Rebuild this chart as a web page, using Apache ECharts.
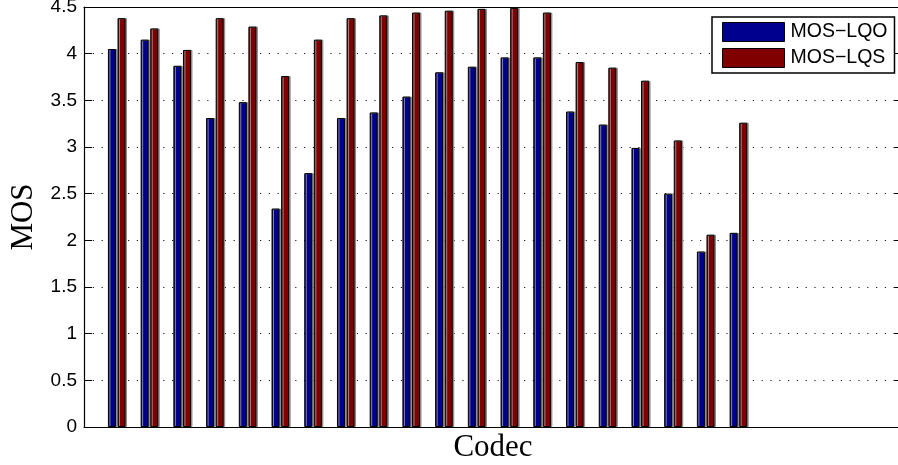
<!DOCTYPE html>
<html>
<head>
<meta charset="utf-8">
<title>MOS per codec</title>
<script src="https://cdn.jsdelivr.net/npm/echarts@6/dist/echarts.min.js"></script>
<style>
  html, body { margin: 0; padding: 0; background: #fff; }
  #chart { width: 898px; height: 465px; }
</style>
</head>
<body>
<div id="chart"></div>
<script>
// Slots along the x axis: 0..25, codecs sit on slots 1..20
const slots = Array.from({ length: 26 }, (_, i) => String(i));
const codecs = [1, 2, 3, 4, 5, 6, 7, 8, 9, 10, 11, 12, 13, 14, 15, 16, 17, 18, 19, 20];

// Objective scores
const mosLQO = [4.05, 4.15, 3.87, 3.31, 3.48, 2.34, 2.72, 3.31, 3.37, 3.54,
                3.80, 3.86, 3.96, 3.96, 3.38, 3.24, 2.99, 2.50, 1.88, 2.08];
// Subjective scores
const mosLQS = [4.38, 4.27, 4.04, 4.38, 4.29, 3.76, 4.15, 4.38, 4.41, 4.44,
                4.46, 4.48, 4.49, 4.44, 3.91, 3.85, 3.71, 3.07, 2.06, 3.26];

const yTicks = [0, 0.5, 1, 1.5, 2, 2.5, 3, 3.5, 4, 4.5];

const sans = '"Liberation Sans", Arial, Helvetica, sans-serif';
const serif = '"Liberation Serif", "Times New Roman", serif';

const chart = echarts.init(document.getElementById('chart'), null, { renderer: 'canvas' });

const dotted = { color: '#1a1a1a', width: 1.2, type: [1.2, 7.6] };

function barSeries(name, values, color) {
  return {
    name: name,
    type: 'bar',
    xAxisIndex: 0,
    yAxisIndex: 0,
    barWidth: 8,
    barGap: '20%',
    data: codecs.map((c, i) => [c, values[i]]),
    itemStyle: {
      color: color,
      borderColor: '#000',
      borderWidth: 1,
      shadowColor: '#8a8a8a',
      shadowOffsetX: 1.5,
      shadowOffsetY: 0,
      shadowBlur: 0
    },
    emphasis: { disabled: true },
    animation: false
  };
}

const hiddenCategoryAxis = (pos) => ({
  type: 'category', position: pos, data: slots, boundaryGap: false,
  axisLine: { show: true, onZero: false, lineStyle: { color: '#000', width: 1.2 } },
  axisTick: { show: false }, axisLabel: { show: false }, splitLine: { show: false }
});

const option = {
  animation: false,
  grid: {
    left: 84, top: 7, width: 818, height: 420,
    containLabel: false, outerBoundsMode: 'none'
  },
  legend: {
    orient: 'vertical',
    left: 712,
    top: 17,
    padding: [5, 7, 5, 10],
    itemGap: 6,
    itemWidth: 62,
    itemHeight: 19,
    borderColor: '#000',
    borderWidth: 1.5,
    backgroundColor: '#fff',
    textStyle: { fontFamily: sans, fontSize: 19.5, color: '#000', padding: [0, 0, 0, 1] },
    itemStyle: { borderColor: '#000', borderWidth: 1, shadowColor: 'rgba(0,0,0,0)' },
    data: [
      { name: 'MOS−LQO', icon: 'rect' },
      { name: 'MOS−LQS', icon: 'rect' }
    ]
  },
  xAxis: [
    Object.assign(hiddenCategoryAxis('bottom'), {
      name: 'Codec', nameLocation: 'middle', nameGap: 5,
      nameTextStyle: { fontFamily: serif, fontSize: 31, color: '#000' }
    }),
    hiddenCategoryAxis('top')
  ],
  yAxis: [
    {
      type: 'value', position: 'left', min: 0, max: 4.5, interval: 0.5,
      name: 'MOS', nameLocation: 'middle', nameGap: 42, nameRotate: 90,
      nameTextStyle: { fontFamily: serif, fontSize: 31, color: '#000' },
      axisLine: { show: true, lineStyle: { color: '#000', width: 1.2 } },
      axisTick: { show: true, inside: true, length: 8, lineStyle: { color: '#000' } },
      axisLabel: {
        show: true, margin: 7, fontFamily: sans, fontSize: 19, color: '#000',
        formatter: v => String(yTicks.find(t => Math.abs(t - v) < 1e-9) ?? v)
      },
      splitLine: { show: true, lineStyle: dotted }
    },
    {
      type: 'value', position: 'right', min: 0, max: 4.5, interval: 0.5,
      axisLine: { show: true, onZero: false, lineStyle: { color: '#000', width: 1.2 } },
      axisTick: { show: true, inside: true, length: 8, lineStyle: { color: '#000' } },
      axisLabel: { show: false }, splitLine: { show: false }
    }
  ],
  series: [
    barSeries('MOS−LQO', mosLQO, '#00008F'),
    barSeries('MOS−LQS', mosLQS, '#800000')
  ]
};

chart.setOption(option);
</script>
</body>
</html>
